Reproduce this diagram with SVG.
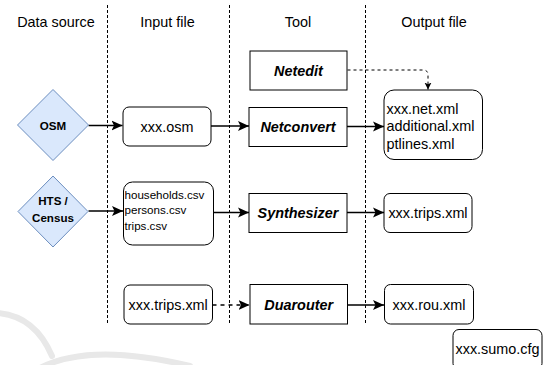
<svg xmlns="http://www.w3.org/2000/svg" width="544" height="365" viewBox="0 0 544 365">
<style>
text{font-family:"Liberation Sans",Arial,sans-serif;fill:#000}
.hd{font-size:14.4px;text-anchor:middle}
.t{font-size:14.4px}
.c{text-anchor:middle}
.tool{font-size:14.4px;font-weight:bold;font-style:italic;text-anchor:middle}
.src{font-size:11.6px;font-weight:bold;text-anchor:middle}
.sm{font-size:11.6px}
.box{fill:#fff;stroke:#000;stroke-width:1}
.dia{fill:#dae8fc;stroke:#6c8ebf;stroke-width:1}
.col{stroke:#000;stroke-width:1;stroke-dasharray:3 2;fill:none}
.ar{stroke:#000;stroke-width:1.5;fill:none;marker-end:url(#ah)}
.dar{stroke:#000;stroke-width:1.5;fill:none;stroke-dasharray:4 4;marker-end:url(#ah)}
.dar2{stroke:#000;stroke-width:1;fill:none;stroke-dasharray:3 3;marker-end:url(#ahs)}
.wm{stroke:#e8e8e8;stroke-width:6;fill:none;stroke-linecap:round}
</style>
<defs>
<marker id="ah" markerUnits="userSpaceOnUse" markerWidth="12" markerHeight="11" refX="11" refY="5.5" orient="auto">
<path d="M0,0.5 L11,5.5 L0,10.5 L2.5,5.5 Z" fill="#000"/>
</marker>
<marker id="ahs" markerUnits="userSpaceOnUse" markerWidth="8" markerHeight="8" refX="7" refY="4" orient="auto">
<path d="M0,0.5 L7,4 L0,7.5 L1.8,4 Z" fill="#000"/>
</marker>
</defs>
<rect width="544" height="365" fill="#fff"/>
<g id="watermark">
<path class="wm" d="M-2,313 Q35,316 52,356"/>
<path class="wm" d="M40,368 Q90,342 190,366"/>
</g>
<g id="columns">
<line class="col" x1="107.5" y1="5" x2="107.5" y2="325"/>
<line class="col" x1="229.5" y1="5" x2="229.5" y2="325"/>
<line class="col" x1="365.5" y1="5" x2="365.5" y2="325"/>
</g>
<g id="headers">
<text class="hd" x="56" y="27">Data source</text>
<text class="hd" x="167.5" y="27">Input file</text>
<text class="hd" x="298" y="27">Tool</text>
<text class="hd" x="434" y="27">Output file</text>
</g>
<g id="connectors">
<path class="ar" d="M88.5,125.5 L122.5,125.5"/>
<path class="ar" d="M211,126 L249,126"/>
<path class="ar" d="M347,126.5 L384,126.5"/>
<path class="dar2" d="M347.5,70 L423,70 Q428,70 428,75 L428,89.5"/>
<path class="ar" d="M88.5,211 L123,211"/>
<path class="ar" d="M213.5,212.5 L249,212.5"/>
<path class="ar" d="M347,212.5 L384,212.5"/>
<path class="dar" d="M212.5,305 L249.5,305"/>
<path class="ar" d="M347.5,305 L384,305"/>
</g>
<g id="osm">
<polygon class="dia" points="53,89.5 88.5,125 53,160.5 17.5,125"/>
<text class="src" x="53" y="129.5">OSM</text>
</g>
<g id="hts">
<polygon class="dia" points="53,176 88,211.5 53,247 18,211.5"/>
<text class="src" x="53" y="204.5">HTS /</text>
<text class="src" x="53" y="221.5">Census</text>
</g>
<g id="xxx-osm">
<rect class="box" x="123" y="107" width="88" height="39" rx="6"/>
<text class="t c" x="167" y="131.5">xxx.osm</text>
</g>
<g id="csv">
<rect class="box" x="123.5" y="182" width="90" height="63" rx="9"/>
<text class="sm" x="124.5" y="198.5">households.csv</text>
<text class="sm" x="124.5" y="214">persons.csv</text>
<text class="sm" x="124.5" y="229.5">trips.csv</text>
</g>
<g id="trips-in">
<rect class="box" x="124" y="285" width="88.5" height="39" rx="6"/>
<text class="t c" x="168.2" y="310">xxx.trips.xml</text>
</g>
<g id="netedit">
<rect class="box" x="250" y="51" width="97" height="39"/>
<text class="tool" x="298.5" y="76">Netedit</text>
</g>
<g id="netconvert">
<rect class="box" x="249" y="107.5" width="98" height="39"/>
<text class="tool" x="298" y="132">Netconvert</text>
</g>
<g id="synthesizer">
<rect class="box" x="249" y="193.5" width="98" height="39"/>
<text class="tool" x="298" y="218">Synthesizer</text>
</g>
<g id="duarouter">
<rect class="box" x="250" y="284.5" width="97.5" height="39.5"/>
<text class="tool" x="298.7" y="310">Duarouter</text>
</g>
<g id="net-out">
<rect class="box" x="384" y="90" width="98.5" height="69.5" rx="10"/>
<text class="t" x="386.5" y="113.5">xxx.net.xml</text>
<text class="t" x="386.5" y="131">additional.xml</text>
<text class="t" x="386.5" y="148.5">ptlines.xml</text>
</g>
<g id="trips-out">
<rect class="box" x="384" y="193.5" width="88" height="39" rx="6"/>
<text class="t c" x="428" y="218">xxx.trips.xml</text>
</g>
<g id="rou-out">
<rect class="box" x="384.5" y="284.5" width="89" height="39.5" rx="6"/>
<text class="t c" x="429" y="310">xxx.rou.xml</text>
</g>
<g id="sumo-cfg">
<rect class="box" x="453" y="329.5" width="89" height="40" rx="6"/>
<text class="t" x="455.5" y="354">xxx.sumo.cfg</text>
</g>
</svg>
